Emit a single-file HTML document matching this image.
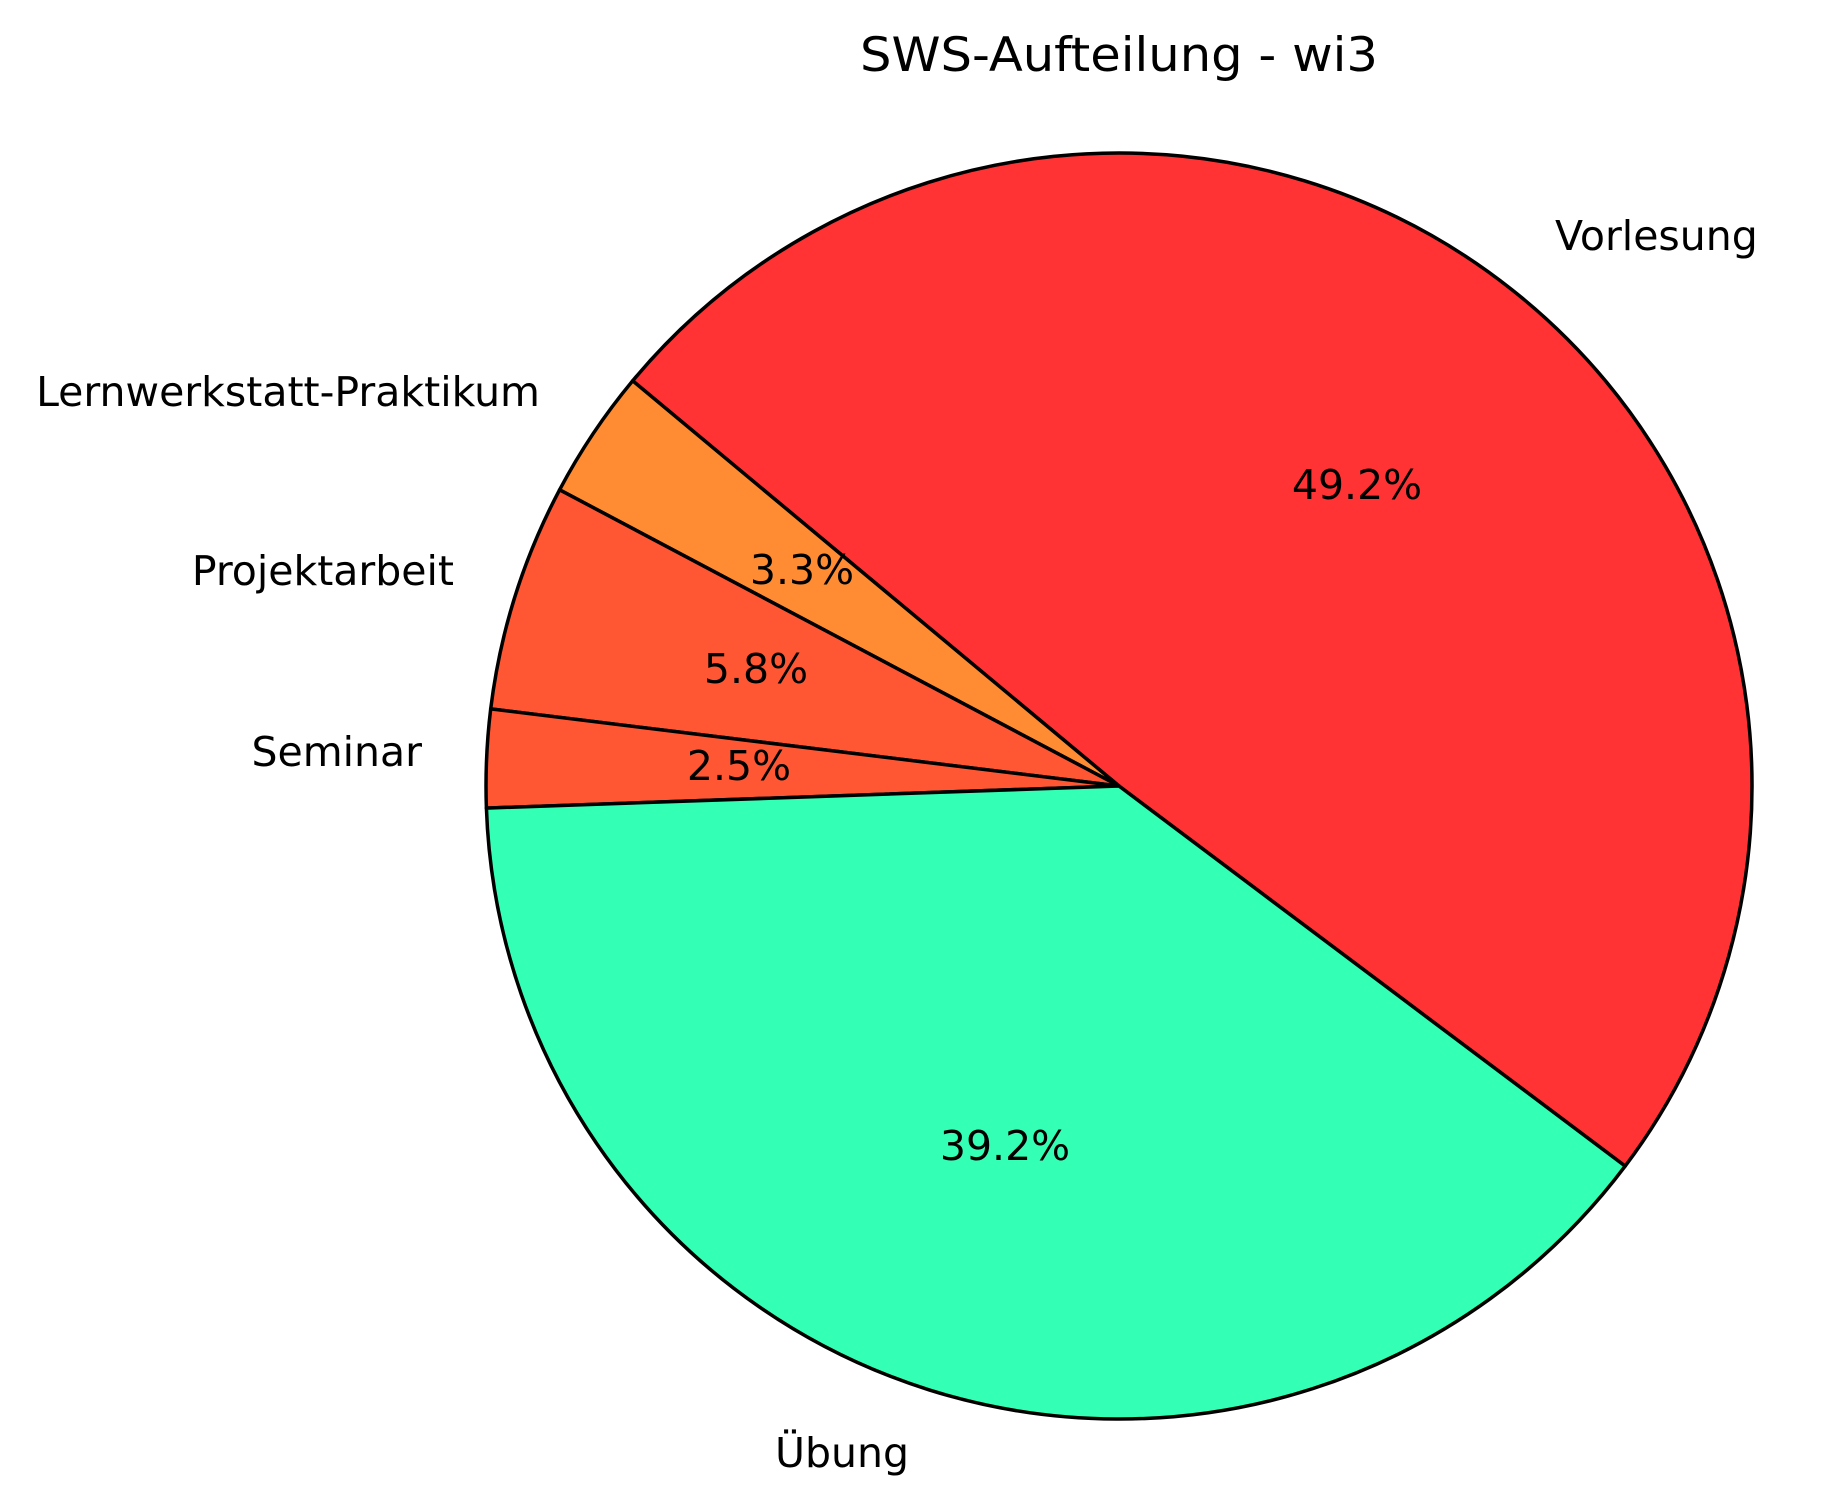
<!DOCTYPE html>
<html><head><meta charset="utf-8"><style>html,body{margin:0;padding:0;background:#fff}svg{display:block}</style></head>
<body>
<svg width="1847" height="1509" viewBox="0 0 1847 1509" xmlns="http://www.w3.org/2000/svg" font-family="'DejaVu Sans','Liberation Sans',sans-serif">
<rect width="1847" height="1509" fill="#fff"/>
<g stroke="#000" stroke-width="3.5" stroke-linejoin="round">
<path d="M1119,786 L1625.2,1166.1 A633,633 0 0 0 1511.8,289.6 A633,633 0 0 0 632.7,380.8 Z" fill="#ff3333"/>
<path d="M1119,786 L632.7,380.8 A633,633 0 0 0 559.6,489.8 Z" fill="#ff8c33"/>
<path d="M1119,786 L559.6,489.8 A633,633 0 0 0 490.7,708.9 Z" fill="#ff5733"/>
<path d="M1119,786 L490.7,708.9 A633,633 0 0 0 486.4,808.1 Z" fill="#ff5733"/>
<path d="M1119,786 L486.4,808.1 A633,633 0 0 0 929.2,1389.9 A633,633 0 0 0 1625.2,1166.1 Z" fill="#33ffb5"/>
</g>
<text x="1119" y="71" font-size="47" text-anchor="middle" textLength="518" lengthAdjust="spacingAndGlyphs">SWS-Aufteilung - wi3</text>
<g font-size="41">
<text x="1555" y="250">Vorlesung</text>
<text x="540" y="406" text-anchor="end">Lernwerkstatt-Praktikum</text>
<text x="454" y="585" text-anchor="end">Projektarbeit</text>
<text x="422" y="766" text-anchor="end">Seminar</text>
<text x="775" y="1467">Übung</text>
<text x="1357" y="499" text-anchor="middle">49.2%</text>
<text x="802" y="584" text-anchor="middle">3.3%</text>
<text x="756" y="683" text-anchor="middle">5.8%</text>
<text x="739" y="780" text-anchor="middle">2.5%</text>
<text x="1005" y="1160" text-anchor="middle">39.2%</text>
</g>
</svg>
</body></html>
